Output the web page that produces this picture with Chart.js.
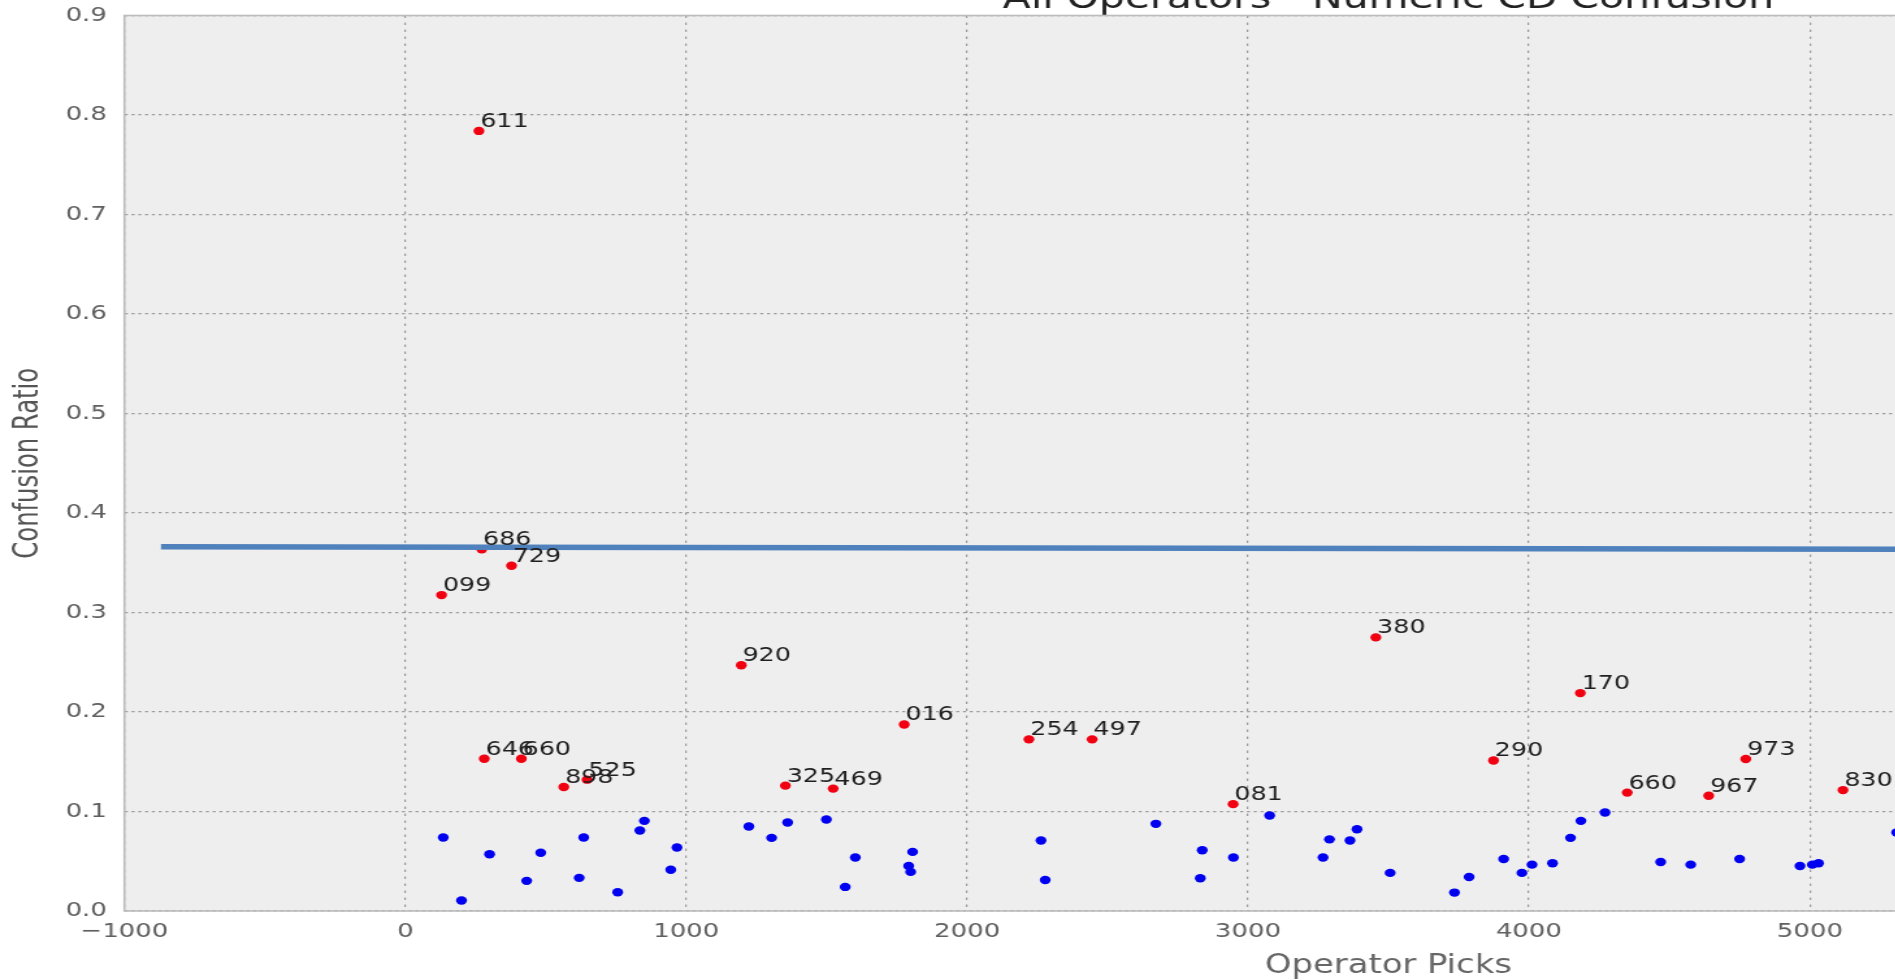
<!DOCTYPE html>
<html>
<head>
<meta charset="utf-8">
<title>All Operators - Numeric CD Confusion</title>
<script src="https://cdn.jsdelivr.net/npm/chart.js@4.4.1/dist/chart.umd.min.js"></script>
<style>
html, body { margin: 0; padding: 0; background: #ffffff; overflow: hidden; width: 1895px; height: 980px; }
#wrap { position: absolute; left: 0; top: -30px; width: 2128px; height: 1009px; transform: scaleX(1.3); transform-origin: 0 0; }
#c { display: block; }
</style>
</head>
<body>
<div id="wrap"><canvas id="c" width="2128" height="1009"></canvas></div>
<script>
// ---- data ----
const chartTitle = 'All Operators - Numeric CD Confusion';
const xAxisTitle = 'Operator Picks';
const yAxisTitle = 'Confusion Ratio';

// flagged operators (red, annotated)
const flaggedIds    = ['611', '686', '729', '099', '920', '380', '170', '016', '254', '497', '646', '660', '898', '525', '325', '469', '081', '290', '973', '660', '967', '830'];
const flaggedPicks  = [262, 272, 378, 129, 1196, 3455, 4183, 1776, 2220, 2445, 281, 413, 564, 647, 1353, 1523, 2947, 3874, 4772, 4350, 4640, 5118];
const flaggedRatios = [0.784, 0.3635, 0.347, 0.3175, 0.247, 0.275, 0.219, 0.1875, 0.1725, 0.1725, 0.153, 0.153, 0.1246, 0.132, 0.126, 0.123, 0.1074, 0.1513, 0.1527, 0.119, 0.1158, 0.1215];

// other operators (blue)
const otherPicks  = [135, 200, 300, 432, 482, 619, 635, 756, 835, 851, 945, 967, 1223, 1304, 1361, 1499, 1566, 1602, 1792, 1799, 1806, 2263, 2278, 2672, 2830, 2837, 2948, 3077, 3267, 3290, 3363, 3388, 3506, 3735, 3787, 3910, 3975, 4011, 4084, 4148, 4185, 4271, 4469, 4576, 4750, 4965, 5009, 5031, 5309];
const otherRatios = [0.0739, 0.0106, 0.0571, 0.0303, 0.0585, 0.0333, 0.0739, 0.0189, 0.0809, 0.0906, 0.0415, 0.0638, 0.0849, 0.0735, 0.0889, 0.0919, 0.0242, 0.0537, 0.0453, 0.0393, 0.0594, 0.0708, 0.0312, 0.0876, 0.0329, 0.0611, 0.0537, 0.0960, 0.0537, 0.0720, 0.0708, 0.0822, 0.0383, 0.0185, 0.0342, 0.0523, 0.0383, 0.0466, 0.0480, 0.0735, 0.0906, 0.0990, 0.0493, 0.0466, 0.0523, 0.0453, 0.0466, 0.0480, 0.0789];

// hand-drawn threshold line
const thresholdPicks  = [-870, 5320];
const thresholdRatios = [0.366, 0.3635];

// axis ranges / ticks
const xRange = [-1000, 8000];
const xStep = 1000;
const yRange = [0, 0.9];
const yStep = 0.1;

// ---- helpers ----
const toPoints = (xs, ys) => xs.map((x, i) => ({ x: x, y: ys[i] }));
const fmtX = v => (v < 0 ? '\u2212' + Math.abs(v) : String(v));
const fmtY = v => Number(v).toFixed(1);

const plotFrame = {
  id: 'plotFrame',
  beforeDraw(chart) {
    const { ctx, chartArea: a } = chart;
    ctx.save();
    ctx.fillStyle = '#eeeeee';
    ctx.fillRect(a.left, a.top, a.right - a.left, a.bottom - a.top);
    ctx.restore();
  },
  beforeDatasetsDraw(chart) {
    const { ctx, chartArea: a } = chart;
    ctx.save();
    ctx.strokeStyle = '#bcbcbc';
    ctx.lineWidth = 1.6;
    ctx.strokeRect(a.left, a.top, a.right - a.left, a.bottom - a.top);
    ctx.restore();
  }
};

const pointLabels = {
  id: 'pointLabels',
  afterDatasetsDraw(chart) {
    const { ctx } = chart;
    const meta = chart.getDatasetMeta(1);
    ctx.save();
    ctx.font = '19.5px "DejaVu Sans"';
    ctx.fillStyle = '#1e1e1e';
    ctx.textAlign = 'left';
    ctx.textBaseline = 'alphabetic';
    meta.data.forEach((el, i) => {
      ctx.fillText(flaggedIds[i], el.x + 1, el.y - 4);
    });
    ctx.restore();
  }
};

const tickFont = { family: 'DejaVu Sans', size: 20 };

new Chart(document.getElementById('c'), {
  type: 'scatter',
  data: {
    datasets: [
      {
        label: 'threshold',
        data: toPoints(thresholdPicks, thresholdRatios),
        showLine: true,
        borderColor: '#4f81bd',
        backgroundColor: '#4f81bd',
        borderWidth: 5.5,
        pointRadius: 0,
        order: 0
      },
      {
        label: 'flagged',
        data: toPoints(flaggedPicks, flaggedRatios),
        backgroundColor: '#f00010',
        borderColor: '#f00010',
        borderWidth: 0,
        pointRadius: 4.2,
        order: 1
      },
      {
        label: 'other',
        data: toPoints(otherPicks, otherRatios),
        backgroundColor: '#0000f0',
        borderColor: '#0000f0',
        borderWidth: 0,
        pointRadius: 4.2,
        order: 2
      }
    ]
  },
  options: {
    responsive: false,
    animation: false,
    devicePixelRatio: 1,
    layout: { padding: { left: 0, right: 87.6, top: 0, bottom: 0 } },
    plugins: {
      legend: { display: false },
      tooltip: { enabled: false },
      title: {
        display: true,
        fullSize: false,
        text: chartTitle,
        color: '#222222',
        font: { family: 'DejaVu Sans', size: 31.5, weight: 'normal', lineHeight: 1 },
        padding: { top: 14, bottom: 0 }
      }
    },
    scales: {
      x: {
        type: 'linear',
        min: xRange[0],
        max: xRange[1],
        ticks: {
          stepSize: xStep,
          color: '#606060',
          font: tickFont,
          padding: 9,
          maxRotation: 0,
          autoSkip: false,
          callback: v => fmtX(v)
        },
        grid: { color: '#9a9a9a', lineWidth: 1.2, drawTicks: false },
        border: { display: false, dash: [2.4, 4.6] },
        title: {
          display: true,
          text: xAxisTitle,
          color: '#666666',
          font: { family: 'DejaVu Sans', size: 26, lineHeight: 1 },
          padding: { top: 0, bottom: 0 }
        }
      },
      y: {
        type: 'linear',
        min: yRange[0],
        max: yRange[1],
        ticks: {
          stepSize: yStep,
          color: '#606060',
          font: tickFont,
          padding: 13.5,
          callback: v => fmtY(v)
        },
        grid: { color: '#9a9a9a', lineWidth: 1.2, drawTicks: false },
        border: { display: false, dash: [2.3, 2.9] },
        title: {
          display: true,
          text: yAxisTitle,
          color: '#555555',
          font: { family: "'Liberation Sans Narrow', 'DejaVu Sans Condensed', 'Liberation Sans', sans-serif", size: 27 },
          padding: { top: 5.5, bottom: 0 }
        },
        afterFit: s => { s.width = 95.7; }
      }
    }
  },
  plugins: [plotFrame, pointLabels]
});
</script>
</body>
</html>
